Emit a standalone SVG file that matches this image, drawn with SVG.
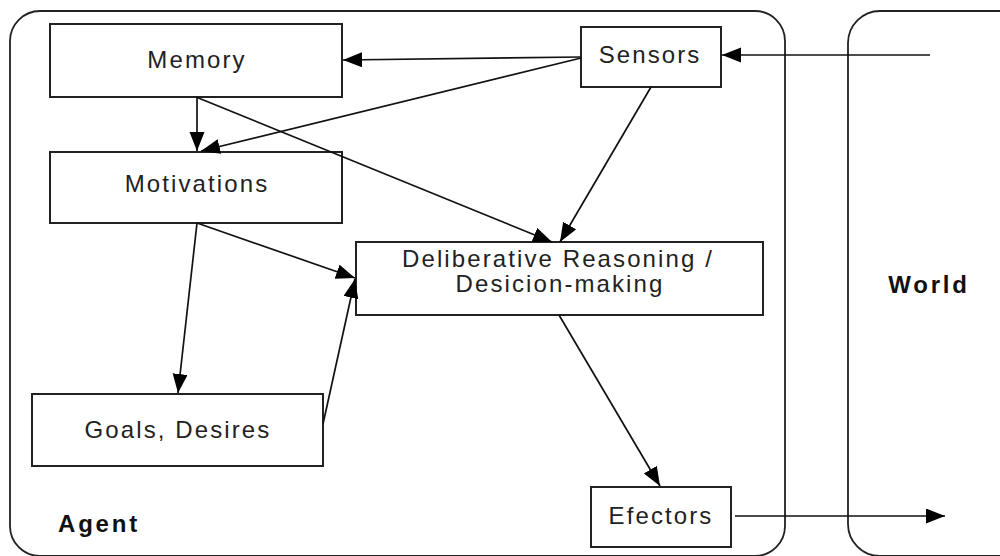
<svg xmlns="http://www.w3.org/2000/svg" width="1000" height="556" viewBox="0 0 1000 556">
<style>
.box{fill:#fff;stroke:#222;stroke-width:2}
.area{fill:none;stroke:#222;stroke-width:1.8}
.lbl{font-family:"Liberation Sans",Arial,sans-serif;font-size:24px;letter-spacing:2.1px;fill:#222;text-anchor:middle}
.bold{font-family:"Liberation Sans",Arial,sans-serif;font-size:24px;font-weight:bold;letter-spacing:2.8px;fill:#111;text-anchor:middle}
.conn line{stroke:#111;stroke-width:1.7;marker-end:url(#ah)}
</style>
<defs>
<marker id="ah" markerUnits="userSpaceOnUse" markerWidth="20" markerHeight="16" refX="19" refY="7.5" orient="auto" viewBox="0 0 20 16">
<path d="M0,0 L19,7.5 L0,15 z" fill="#000"/>
</marker>
</defs>
<rect width="1000" height="556" fill="#fff"/>
<g id="agent">
<rect class="area" x="10" y="11" width="775" height="545" rx="30" ry="30"/>
<text class="bold" x="99" y="532">Agent</text>
</g>
<g id="world">
<rect class="area" x="848" y="11" width="200" height="545" rx="32" ry="32"/>
<text class="bold" x="929" y="293">World</text>
</g>
<g id="memory">
<rect class="box" x="50" y="24" width="292" height="73"/>
<text class="lbl" x="197" y="68">Memory</text>
</g>
<g id="motivations">
<rect class="box" x="50" y="152" width="292" height="71"/>
<text class="lbl" x="197" y="192">Motivations</text>
</g>
<g id="goals">
<rect class="box" x="32" y="394" width="291" height="72"/>
<text class="lbl" x="178" y="438">Goals, Desires</text>
</g>
<g id="sensors">
<rect class="box" x="581" y="27" width="140" height="60"/>
<text class="lbl" x="650" y="63">Sensors</text>
</g>
<g id="deliberative">
<rect class="box" x="356" y="242" width="407" height="73"/>
<text class="lbl" x="558" y="267">Deliberative Reasoning /</text>
<text class="lbl" x="560" y="292">Desicion-making</text>
</g>
<g id="efectors">
<rect class="box" x="591" y="487" width="140" height="60"/>
<text class="lbl" x="661" y="524">Efectors</text>
</g>
<g id="connectors" class="conn">
<line x1="930" y1="55" x2="722" y2="55"/>
<line x1="581" y1="57" x2="343" y2="60"/>
<line x1="581" y1="58" x2="201" y2="151"/>
<line x1="197" y1="97" x2="197" y2="151"/>
<line x1="196" y1="97" x2="552" y2="242"/>
<line x1="651" y1="87" x2="560" y2="242"/>
<line x1="197" y1="223" x2="355" y2="278"/>
<line x1="197" y1="223" x2="178" y2="393"/>
<line x1="323" y1="424" x2="355" y2="279"/>
<line x1="559" y1="315" x2="660" y2="486"/>
<line x1="735" y1="516" x2="945" y2="516"/>
</g>
</svg>
